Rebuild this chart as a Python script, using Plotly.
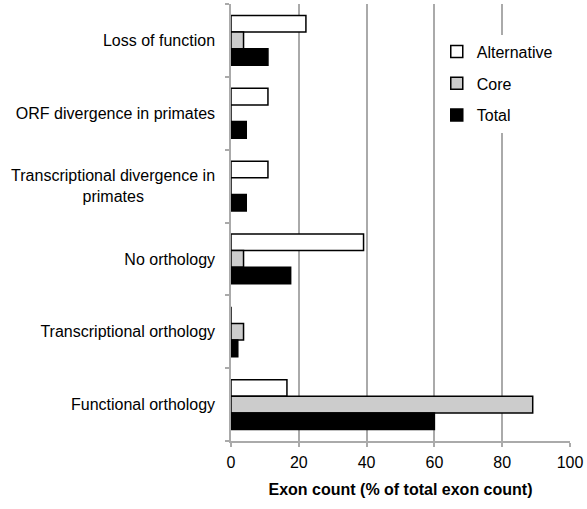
import plotly.graph_objects as go

categories = ["Loss of function", "ORF divergence in primates",
              "Transcriptional divergence in primates", "No orthology",
              "Transcriptional orthology", "Functional orthology"]
tick_labels = ["Loss of function", "ORF divergence in primates",
               "Transcriptional divergence in<br>primates" + "\u00a0" * 16,
               "No orthology", "Transcriptional orthology", "Functional orthology"]
alternative = [22.1, 10.9, 10.9, 39.1, 0, 16.5]
core = [3.7, 0, 0, 3.7, 3.7, 89.0]
total = [10.9, 4.5, 4.5, 17.6, 2.0, 60.0]

font = "Liberation Sans, Arial, sans-serif"

fig = go.Figure()
for name, vals, col in [("Alternative", alternative, "white"),
                        ("Core", core, "#cccccc"),
                        ("Total", total, "black")]:
    fig.add_trace(go.Bar(y=categories, x=vals, name=name, orientation="h",
                         legendgroup=name,
                         marker=dict(color=col, line=dict(color="black", width=1.5))))

fig.update_layout(
    width=587, height=509,
    margin=dict(l=231, r=15, t=4, b=68),
    paper_bgcolor="white", plot_bgcolor="white",
    barmode="group", bargap=0.315, bargroupgap=0,
    font=dict(family=font, size=16, color="black"),
    legend=dict(x=0.607, y=0.93, xanchor="left", yanchor="top",
                traceorder="grouped", tracegroupgap=8,
                bgcolor="white", font=dict(size=16), itemwidth=30),
    xaxis=dict(range=[0, 100], tickvals=[0, 20, 40, 60, 80, 100],
               showgrid=True, gridcolor="#aaaaaa", gridwidth=1.5,
               showline=True, linecolor="#aaaaaa", linewidth=1.5,
               ticks="outside", ticklen=4, tickcolor="#aaaaaa", tickwidth=1.5,
               zeroline=False, ticklabelstandoff=2,
               title=dict(text="<b>Exon count (% of total exon count)</b>",
                          font=dict(size=16), standoff=14),
               tickfont=dict(size=16)),
    yaxis=dict(categoryorder="array", categoryarray=categories,
               autorange="reversed",
               tickvals=categories, ticktext=tick_labels,
               showline=True, linecolor="#aaaaaa", linewidth=1.5,
               ticks="outside", ticklen=4, tickcolor="#aaaaaa", tickwidth=1.5,
               tickson="boundaries", showgrid=False, zeroline=False,
               ticklabelstandoff=11,
               tickfont=dict(size=16)),
)

fig.write_html("out.html", config={"displayModeBar": False},
               post_script="document.body.style.margin='0';")
